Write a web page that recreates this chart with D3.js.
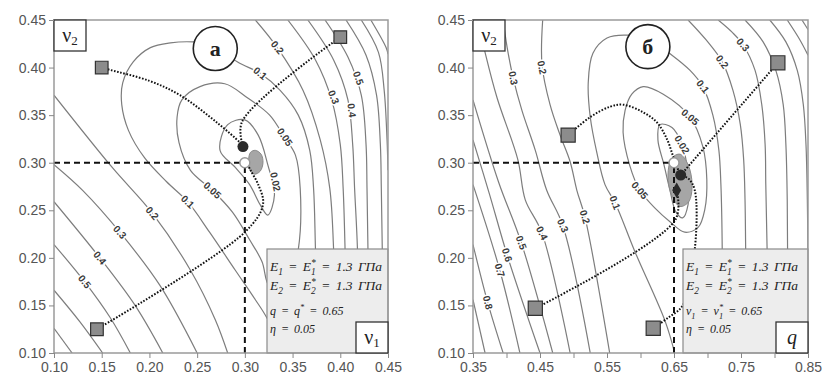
<!DOCTYPE html>
<html>
<head>
<meta charset="utf-8">
<script src="https://cdn.jsdelivr.net/npm/d3@7"></script>
<style>
  body { margin: 0; background: #fff; }
  svg { display: block; }
  .tick text { font-family: 'Liberation Sans', Arial, sans-serif; font-size: 14px; fill: #555; }
  .tick line { stroke: #888; }
  .contour { fill: none; stroke: #7d7d7d; stroke-width: 1.2; }
  .clabel { font-family: 'Liberation Sans', Arial, sans-serif; font-size: 10px; font-weight: bold; fill: #3a3a3a;
            stroke: #fff; stroke-width: 3px; paint-order: stroke; text-anchor: middle; dominant-baseline: central; }
  .track { fill: none; stroke: #111; stroke-width: 2; stroke-dasharray: 1.6 1.6; }
  .guide { stroke: #111; stroke-width: 2; stroke-dasharray: 6 4; }
  .note { font-family: 'Liberation Serif', serif; font-style: italic; fill: #222; word-spacing: 2px; }
</style>
</head>
<body>
<svg id="chart" width="826" height="380"></svg>
<script>
// ---- data (v1 or q on x, v2 on y) ----
const yTicks = [0.10, 0.15, 0.20, 0.25, 0.30, 0.35, 0.40, 0.45];
const leftXTicks = [0.10, 0.15, 0.20, 0.25, 0.30, 0.35, 0.40, 0.45];
const rightXTicks = [0.35, 0.40, 0.45, 0.50, 0.55, 0.60, 0.65, 0.70, 0.75, 0.80, 0.85];
const rightXLabels = [0.35, 0.45, 0.55, 0.65, 0.75, 0.85];

// [level, closed, points]
const leftContours = [
  [0.02, true, [[0.274, 0.313], [0.282, 0.340], [0.300, 0.345], [0.314, 0.329], [0.324, 0.298], [0.331, 0.266],
    [0.324, 0.245], [0.316, 0.256], [0.305, 0.277], [0.290, 0.295]]],
  [0.05, true, [[0.279, 0.383], [0.253, 0.380], [0.234, 0.366], [0.229, 0.348], [0.231, 0.321], [0.243, 0.292],
    [0.266, 0.271], [0.287, 0.248], [0.305, 0.219], [0.318, 0.196], [0.326, 0.170], [0.345, 0.170], [0.356, 0.209],
    [0.358, 0.273], [0.353, 0.308], [0.342, 0.326], [0.326, 0.350], [0.303, 0.368]]],
  [0.1, false, [[0.377, 0.100], [0.374, 0.209], [0.372, 0.273], [0.368, 0.313], [0.356, 0.350], [0.337, 0.376],
    [0.316, 0.394], [0.292, 0.406], [0.269, 0.424], [0.246, 0.427], [0.222, 0.426], [0.201, 0.421], [0.183, 0.406],
    [0.172, 0.384], [0.171, 0.361], [0.178, 0.334], [0.195, 0.305], [0.218, 0.280], [0.240, 0.259], [0.263, 0.227],
    [0.290, 0.187], [0.311, 0.156], [0.323, 0.137], [0.340, 0.100]]],
  [0.2, false, [[0.100, 0.371], [0.161, 0.295], [0.203, 0.247], [0.243, 0.187], [0.269, 0.135], [0.282, 0.100]]],
  [0.2, false, [[0.311, 0.450], [0.334, 0.421], [0.361, 0.376], [0.379, 0.324], [0.389, 0.273], [0.393, 0.209], [0.396, 0.100]]],
  [0.3, false, [[0.100, 0.298], [0.130, 0.271], [0.169, 0.227], [0.211, 0.171], [0.250, 0.100]]],
  [0.3, false, [[0.345, 0.450], [0.374, 0.408], [0.391, 0.366], [0.400, 0.319], [0.403, 0.273], [0.405, 0.209], [0.407, 0.100]]],
  [0.4, false, [[0.100, 0.259], [0.148, 0.200], [0.185, 0.150], [0.214, 0.100]]],
  [0.4, false, [[0.366, 0.450], [0.393, 0.408], [0.408, 0.366], [0.413, 0.319], [0.415, 0.273], [0.418, 0.209], [0.420, 0.100]]],
  [0.5, false, [[0.100, 0.214], [0.132, 0.175], [0.159, 0.137], [0.180, 0.100]]],
  [0.5, false, [[0.384, 0.450], [0.408, 0.411], [0.422, 0.371], [0.427, 0.319], [0.428, 0.273], [0.429, 0.209], [0.430, 0.100]]],
  [0.6, false, [[0.100, 0.166], [0.127, 0.133], [0.151, 0.100]]],
  [0.6, false, [[0.406, 0.450], [0.427, 0.413], [0.438, 0.371], [0.442, 0.319], [0.443, 0.273], [0.444, 0.209], [0.446, 0.100]]],
  [0.7, false, [[0.100, 0.126], [0.119, 0.100]]],
  [0.7, false, [[0.422, 0.450], [0.440, 0.416], [0.446, 0.376], [0.449, 0.324], [0.450, 0.292]]],
  [0.8, false, [[0.432, 0.450], [0.448, 0.421], [0.450, 0.414]]]
];
const leftBlob = [[0.311, 0.313], [0.317, 0.309], [0.319, 0.300], [0.316, 0.291], [0.310, 0.288], [0.305, 0.293], [0.304, 0.304], [0.306, 0.311]];
const leftLabels = [
  ['0.5', 0.132, 0.175], ['0.4', 0.148, 0.200], ['0.3', 0.169, 0.227], ['0.2', 0.203, 0.247], ['0.1', 0.240, 0.259],
  ['0.05', 0.266, 0.271], ['0.02', 0.332, 0.280], ['0.2', 0.334, 0.421], ['0.1', 0.316, 0.394], ['0.05', 0.342, 0.327],
  ['0.3', 0.393, 0.369], ['0.4', 0.412, 0.355], ['0.5', 0.419, 0.389]
];
const leftStarts = [[0.150, 0.400], [0.400, 0.432], [0.145, 0.125]];
const leftTracks = [
  [[0.150, 0.400], [0.159, 0.3975], [0.200, 0.386], [0.232, 0.371], [0.271, 0.342], [0.295, 0.321], [0.298, 0.317]],
  [[0.400, 0.432], [0.297, 0.343], [0.298, 0.317]],
  [[0.145, 0.125], [0.300, 0.227], [0.319, 0.256], [0.314, 0.277], [0.306, 0.292], [0.302, 0.300]]
];
const leftOptimum = [0.30, 0.30];
const leftFound = [0.298, 0.317];
const leftMark = [0.269, 0.420, 'а'];
const leftNotes = [
  [['E', ''], ['1', 'sub'], [' = E', ''], ['*', 'sup'], ['1', 'back'], [' = 1.3 ГПа', '']],
  [['E', ''], ['2', 'sub'], [' = E', ''], ['*', 'sup'], ['2', 'back'], [' = 1.3 ГПа', '']],
  [['q = q', ''], ['*', 'sup'], [' = 0.65', '']],
  [['η = 0.05', '']]
];

const rightContours = [
  [0.02, true, [[0.629, 0.340], [0.647, 0.337], [0.662, 0.319], [0.671, 0.287], [0.671, 0.256], [0.663, 0.242],
    [0.653, 0.248], [0.644, 0.271], [0.635, 0.298], [0.626, 0.324]]],
  [0.05, true, [[0.604, 0.380], [0.634, 0.372], [0.674, 0.348], [0.693, 0.317], [0.699, 0.282], [0.696, 0.251],
    [0.686, 0.232], [0.666, 0.227], [0.644, 0.238], [0.622, 0.252], [0.599, 0.271], [0.584, 0.297], [0.574, 0.332],
    [0.577, 0.355], [0.587, 0.372]]],
  [0.1, false, [[0.651, 0.100], [0.637, 0.133], [0.592, 0.206], [0.562, 0.258], [0.547, 0.277], [0.535, 0.310],
    [0.525, 0.348], [0.522, 0.384], [0.529, 0.415], [0.550, 0.431], [0.580, 0.434], [0.614, 0.429], [0.647, 0.413],
    [0.674, 0.397], [0.693, 0.380], [0.708, 0.350], [0.717, 0.313], [0.720, 0.277], [0.722, 0.208], [0.722, 0.100]]],
  [0.2, false, [[0.454, 0.450], [0.453, 0.403], [0.465, 0.361], [0.480, 0.329], [0.495, 0.301], [0.505, 0.271], [0.517, 0.243], [0.554, 0.100]]],
  [0.2, false, [[0.671, 0.450], [0.698, 0.429], [0.722, 0.406], [0.738, 0.376], [0.749, 0.340], [0.754, 0.303], [0.756, 0.261], [0.757, 0.208], [0.759, 0.100]]],
  [0.3, false, [[0.395, 0.450], [0.401, 0.421], [0.410, 0.389], [0.423, 0.355], [0.443, 0.313], [0.460, 0.271], [0.484, 0.234], [0.525, 0.100]]],
  [0.3, false, [[0.716, 0.450], [0.737, 0.437], [0.753, 0.424], [0.771, 0.397], [0.781, 0.361], [0.786, 0.319], [0.787, 0.277], [0.789, 0.208], [0.790, 0.100]]],
  [0.4, false, [[0.357, 0.450], [0.368, 0.416], [0.386, 0.368], [0.417, 0.303], [0.428, 0.261], [0.453, 0.226], [0.495, 0.100]]],
  [0.4, false, [[0.756, 0.450], [0.783, 0.427], [0.802, 0.397], [0.813, 0.361], [0.817, 0.319], [0.819, 0.261], [0.820, 0.100]]],
  [0.5, false, [[0.350, 0.366], [0.388, 0.280], [0.422, 0.216], [0.469, 0.100]]],
  [0.5, false, [[0.793, 0.450], [0.817, 0.427], [0.834, 0.397], [0.843, 0.361], [0.847, 0.319], [0.849, 0.261], [0.850, 0.198]]],
  [0.6, false, [[0.350, 0.324], [0.375, 0.266], [0.401, 0.203], [0.450, 0.100]]],
  [0.6, false, [[0.819, 0.450], [0.838, 0.429], [0.850, 0.413]]],
  [0.7, false, [[0.350, 0.277], [0.390, 0.187], [0.420, 0.100]]],
  [0.7, false, [[0.841, 0.450], [0.850, 0.440]]],
  [0.8, false, [[0.350, 0.214], [0.372, 0.153], [0.395, 0.100]]],
  [0.9, false, [[0.350, 0.156], [0.368, 0.100]]]
];
const rightBlob = [[0.647, 0.305], [0.659, 0.309], [0.671, 0.298], [0.677, 0.277], [0.672, 0.259], [0.659, 0.254], [0.647, 0.265], [0.641, 0.287]];
const rightLabels = [
  ['0.8', 0.372, 0.153], ['0.7', 0.390, 0.187], ['0.6', 0.401, 0.203], ['0.5', 0.422, 0.216], ['0.4', 0.453, 0.226],
  ['0.3', 0.484, 0.234], ['0.2', 0.517, 0.243], ['0.1', 0.562, 0.258], ['0.05', 0.599, 0.271],
  ['0.3', 0.410, 0.389], ['0.2', 0.453, 0.400],
  ['0.3', 0.753, 0.424], ['0.2', 0.722, 0.406], ['0.1', 0.693, 0.380], ['0.05', 0.674, 0.348], ['0.02', 0.662, 0.319]
];
const rightStarts = [[0.492, 0.329], [0.805, 0.405], [0.443, 0.147], [0.619, 0.126]];
const rightTracks = [
  [[0.492, 0.329], [0.525, 0.348], [0.555, 0.359], [0.574, 0.361], [0.604, 0.353], [0.625, 0.342], [0.640, 0.324],
    [0.649, 0.306], [0.656, 0.293], [0.660, 0.287]],
  [[0.805, 0.405], [0.660, 0.287]],
  [[0.443, 0.147], [0.652, 0.240], [0.654, 0.271]],
  [[0.619, 0.126], [0.641, 0.137], [0.663, 0.150], [0.681, 0.209], [0.681, 0.271], [0.672, 0.283], [0.660, 0.287]]
];
const rightOptimum = [0.65, 0.30];
const rightFound = [0.660, 0.287];
const rightFoundAlt = [0.654, 0.271];
const rightMark = [0.611, 0.422, 'б'];
const rightNotes = [
  [['E', ''], ['1', 'sub'], [' = E', ''], ['*', 'sup'], ['1', 'back'], [' = 1.3 ГПа', '']],
  [['E', ''], ['2', 'sub'], [' = E', ''], ['*', 'sup'], ['2', 'back'], [' = 1.3 ГПа', '']],
  [['ν', ''], ['1', 'sub'], [' = ν', ''], ['*', 'sup'], ['1', 'back'], [' = 0.65', '']],
  [['η = 0.05', '']]
];

// ---- drawing ----
const svg = d3.select('#chart');
const fmt = d3.format('.2f');

function richText(sel, x, y, parts, size) {
  const t = sel.append('text').attr('class', 'note').attr('x', x).attr('y', y).style('font-size', size + 'px');
  let shift = 0;
  parts.forEach(([str, kind]) => {
    const target = (kind === 'sub' || kind === 'back') ? size * 0.3 : kind === 'sup' ? -size * 0.4 : 0;
    const ts = t.append('tspan').attr('dy', target - shift).text(str);
    if (kind) ts.style('font-size', (size * 0.7) + 'px');
    if (kind === 'back') ts.attr('dx', -size * 0.35);
    shift = target;
  });
}

function axisName(g, bx, by, main, sub, italic) {
  g.append('rect').attr('x', bx).attr('y', by).attr('width', 32).attr('height', 31)
    .attr('fill', '#fff').attr('stroke', '#333').attr('stroke-width', 1.3);
  const t = g.append('text').attr('x', bx + 16).attr('y', by + 22).attr('text-anchor', 'middle')
    .style('font-family', "'Liberation Serif', serif").style('font-size', '20px').attr('fill', '#222');
  t.append('tspan').style('font-style', italic ? 'italic' : 'normal').text(main);
  if (sub) t.append('tspan').attr('dy', 3).style('font-size', '13px').text(sub);
}

function drawPanel(p) {
  const x = d3.scaleLinear().domain(p.xDomain).range(p.xRange);
  const y = d3.scaleLinear().domain([0.10, 0.45]).range([353, 20]);
  const [x0, x1] = p.xRange;
  const g = svg.append('g');

  g.append('clipPath').attr('id', 'clip-' + p.id).append('rect')
    .attr('x', x0).attr('y', 20).attr('width', x1 - x0).attr('height', 333);
  const plot = g.append('g').attr('clip-path', `url(#clip-${p.id})`);

  const open = d3.line().x(d => x(d[0])).y(d => y(d[1])).curve(d3.curveCatmullRom.alpha(0.5));
  const closed = d3.line().x(d => x(d[0])).y(d => y(d[1])).curve(d3.curveCatmullRomClosed.alpha(0.5));

  plot.selectAll('.contour').data(p.contours).join('path')
    .attr('class', 'contour')
    .attr('d', c => (c[1] ? closed : open)(c[2]));

  plot.append('path').datum(p.blob).attr('d', closed)
    .attr('fill', '#a6a6a6').attr('stroke', '#8a8a8a').attr('stroke-width', 1);

  // dashed guides to the optimum
  plot.append('line').attr('class', 'guide')
    .attr('x1', x(p.xDomain[0])).attr('x2', x(p.optimum[0]))
    .attr('y1', y(p.optimum[1])).attr('y2', y(p.optimum[1]));
  plot.append('line').attr('class', 'guide')
    .attr('x1', x(p.optimum[0])).attr('x2', x(p.optimum[0]))
    .attr('y1', y(0.10)).attr('y2', y(p.optimum[1]));

  plot.selectAll('.track').data(p.tracks).join('path')
    .attr('class', 'track').attr('d', open);

  // contour labels, turned along the nearest piece of their contour
  p.labels.forEach(([txt, lx, ly]) => {
    const px = x(lx), py = y(ly);
    let best = Infinity, ang = 0;
    p.contours.filter(c => String(c[0]) === txt).forEach(c => {
      const pts = c[2];
      for (let i = 0; i < pts.length - 1; i++) {
        const ax = x(pts[i][0]), ay = y(pts[i][1]), bx = x(pts[i + 1][0]), by = y(pts[i + 1][1]);
        const dx = bx - ax, dy = by - ay;
        const t = Math.max(0, Math.min(1, ((px - ax) * dx + (py - ay) * dy) / (dx * dx + dy * dy)));
        const dist = Math.hypot(ax + t * dx - px, ay + t * dy - py);
        if (dist < best) { best = dist; ang = Math.atan2(dy, dx) * 180 / Math.PI; }
      }
    });
    if (ang > 90) ang -= 180;
    if (ang <= -90) ang += 180;
    plot.append('text').attr('class', 'clabel')
      .attr('transform', `translate(${px},${py}) rotate(${ang})`).text(txt);
  });

  // start points and end points
  plot.selectAll('.start').data(p.starts).join('path')
    .attr('class', 'start')
    .attr('transform', d => `translate(${x(d[0])},${y(d[1])})`)
    .attr('d', d3.symbol(d3.symbolSquare, p.squareSize))
    .attr('fill', '#8c8c8c').attr('stroke', '#333').attr('stroke-width', 1.2);

  plot.append('circle').attr('cx', x(p.optimum[0])).attr('cy', y(p.optimum[1])).attr('r', 5)
    .attr('fill', '#fff').attr('stroke', '#999').attr('stroke-width', 1.5);
  plot.append('circle').attr('cx', x(p.found[0])).attr('cy', y(p.found[1])).attr('r', 5.5)
    .attr('fill', '#2a2a2a');
  if (p.foundAlt) {
    plot.append('path').attr('transform', `translate(${x(p.foundAlt[0])},${y(p.foundAlt[1])})`)
      .attr('d', d3.symbol(d3.symbolDiamond, 70)).attr('fill', '#2a2a2a');
  }

  // panel mark
  g.append('circle').attr('cx', x(p.mark[0])).attr('cy', y(p.mark[1])).attr('r', 22)
    .attr('fill', '#fff').attr('stroke', '#222').attr('stroke-width', 1.6);
  g.append('text').attr('x', x(p.mark[0])).attr('y', y(p.mark[1]) + 7).attr('text-anchor', 'middle')
    .style('font-family', "'Liberation Serif', serif").style('font-size', '22px').style('font-weight', 'bold')
    .attr('fill', '#222').text(p.mark[2]);

  // legend with the fixed parameters
  const lx = x1 - p.legendW, ly = 249;
  g.append('rect').attr('x', lx).attr('y', ly).attr('width', p.legendW).attr('height', 104)
    .attr('fill', '#ededed').attr('stroke', '#8a8a8a').attr('stroke-width', 1.2);
  const rows = [[22, 13.5], [41, 13.5], [66, 12], [84, 12]];
  p.notes.forEach((parts, i) => richText(g, lx + 3, ly + rows[i][0], parts, rows[i][1]));

  // frame
  g.append('rect').attr('x', x0).attr('y', 20).attr('width', x1 - x0).attr('height', 333)
    .attr('fill', 'none').attr('stroke', '#9a9a9a').attr('stroke-width', 1.5);

  axisName(g, x0, 20, 'ν', '2', false);
  axisName(g, x1 - 32, 322, p.xName[0], p.xName[1], p.xName[2]);

  // axes
  g.append('g').attr('transform', `translate(${x0},0)`)
    .call(d3.axisLeft(y).tickValues(yTicks).tickFormat(fmt).tickSize(5).tickPadding(3))
    .call(a => a.select('.domain').remove());
  g.append('g').attr('transform', 'translate(0,353)')
    .call(d3.axisBottom(x).tickValues(p.xTicks)
      .tickFormat(d => p.xLabels.some(v => Math.abs(v - d) < 1e-9) ? fmt(d) : '')
      .tickSize(5).tickPadding(4))
    .call(a => a.select('.domain').remove());
}

drawPanel({
  id: 'a', xDomain: [0.10, 0.45], xRange: [54, 388], xTicks: leftXTicks, xLabels: leftXTicks,
  contours: leftContours, blob: leftBlob, labels: leftLabels, starts: leftStarts, tracks: leftTracks,
  optimum: leftOptimum, found: leftFound, mark: leftMark, notes: leftNotes,
  legendW: 121, squareSize: 160, xName: ['ν', '1', false]
});
drawPanel({
  id: 'b', xDomain: [0.35, 0.85], xRange: [473, 808], xTicks: rightXTicks, xLabels: rightXLabels,
  contours: rightContours, blob: rightBlob, labels: rightLabels, starts: rightStarts, tracks: rightTracks,
  optimum: rightOptimum, found: rightFound, foundAlt: rightFoundAlt, mark: rightMark, notes: rightNotes,
  legendW: 125, squareSize: 200, xName: ['q', '', true]
});
</script>
</body>
</html>
